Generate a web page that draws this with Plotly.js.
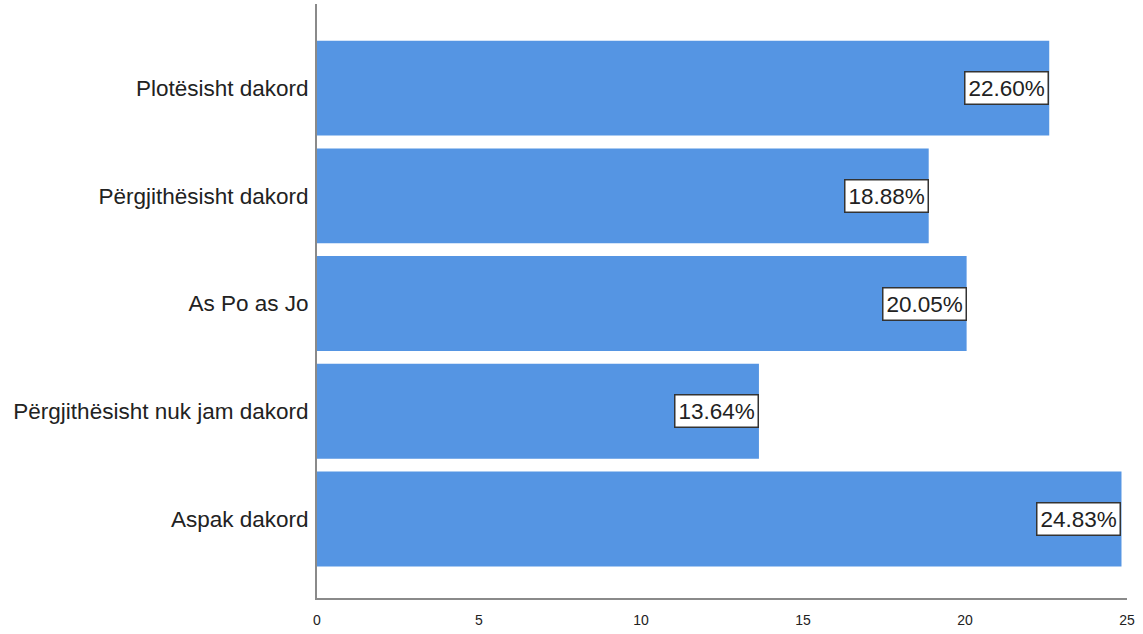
<!DOCTYPE html>
<html><head><meta charset="utf-8">
<script src="https://cdn.plot.ly/plotly-3.0.1.min.js"></script>
<style>html,body{margin:0;padding:0;background:#fff}#chart{width:1143px;height:634px}</style>
</head><body><div id="chart"></div>
<script>
const categories = ["Aspak dakord", "Përgjithësisht nuk jam dakord", "As Po as Jo", "Përgjithësisht dakord", "Plotësisht dakord"];
const values = [24.83, 13.64, 20.05, 18.88, 22.60];
const labels = ["24.83%", "13.64%", "20.05%", "18.88%", "22.60%"];
const xTicks = [0, 5, 10, 15, 20, 25];

const trace = {
  type: "bar", orientation: "h",
  x: values, y: categories,
  marker: {color: "#5595E3"},
  hoverinfo: "none"
};
const annotations = categories.map((c, i) => ({
  x: values[i], y: c, xref: "x", yref: "y",
  text: labels[i], showarrow: false, xanchor: "right", yanchor: "middle",
  bgcolor: "#ffffff", bordercolor: "#333333", borderwidth: 1.5, borderpad: 3,
  font: {family: "Liberation Sans, Arial, sans-serif", size: 22.5, color: "#222"}
}));
const layout = {
  width: 1143, height: 634,
  margin: {l: 317, r: 16, t: 4, b: 36},
  paper_bgcolor: "#fff", plot_bgcolor: "#fff",
  bargap: 0.12, showlegend: false,
  xaxis: {range: [0, 25], tickvals: xTicks, ticktext: xTicks.map(String),
    showgrid: false, zeroline: false, showline: true, linecolor: "#8a8a8a", linewidth: 2,
    ticks: "", ticklabelstandoff: 8,
    tickfont: {family: "Liberation Sans Narrow, Arial Narrow, sans-serif", size: 14, color: "#222"}},
  yaxis: {categoryorder: "array", categoryarray: categories, range: [-0.733, 4.78],
    showgrid: false, zeroline: false, showline: true, linecolor: "#8a8a8a", linewidth: 2,
    ticks: "", ticklabelstandoff: 2,
    tickfont: {family: "Liberation Sans, Arial, sans-serif", size: 22.5, color: "#222"}},
  annotations: annotations
};
Plotly.newPlot("chart", [trace], layout, {staticPlot: true});
</script></body></html>
